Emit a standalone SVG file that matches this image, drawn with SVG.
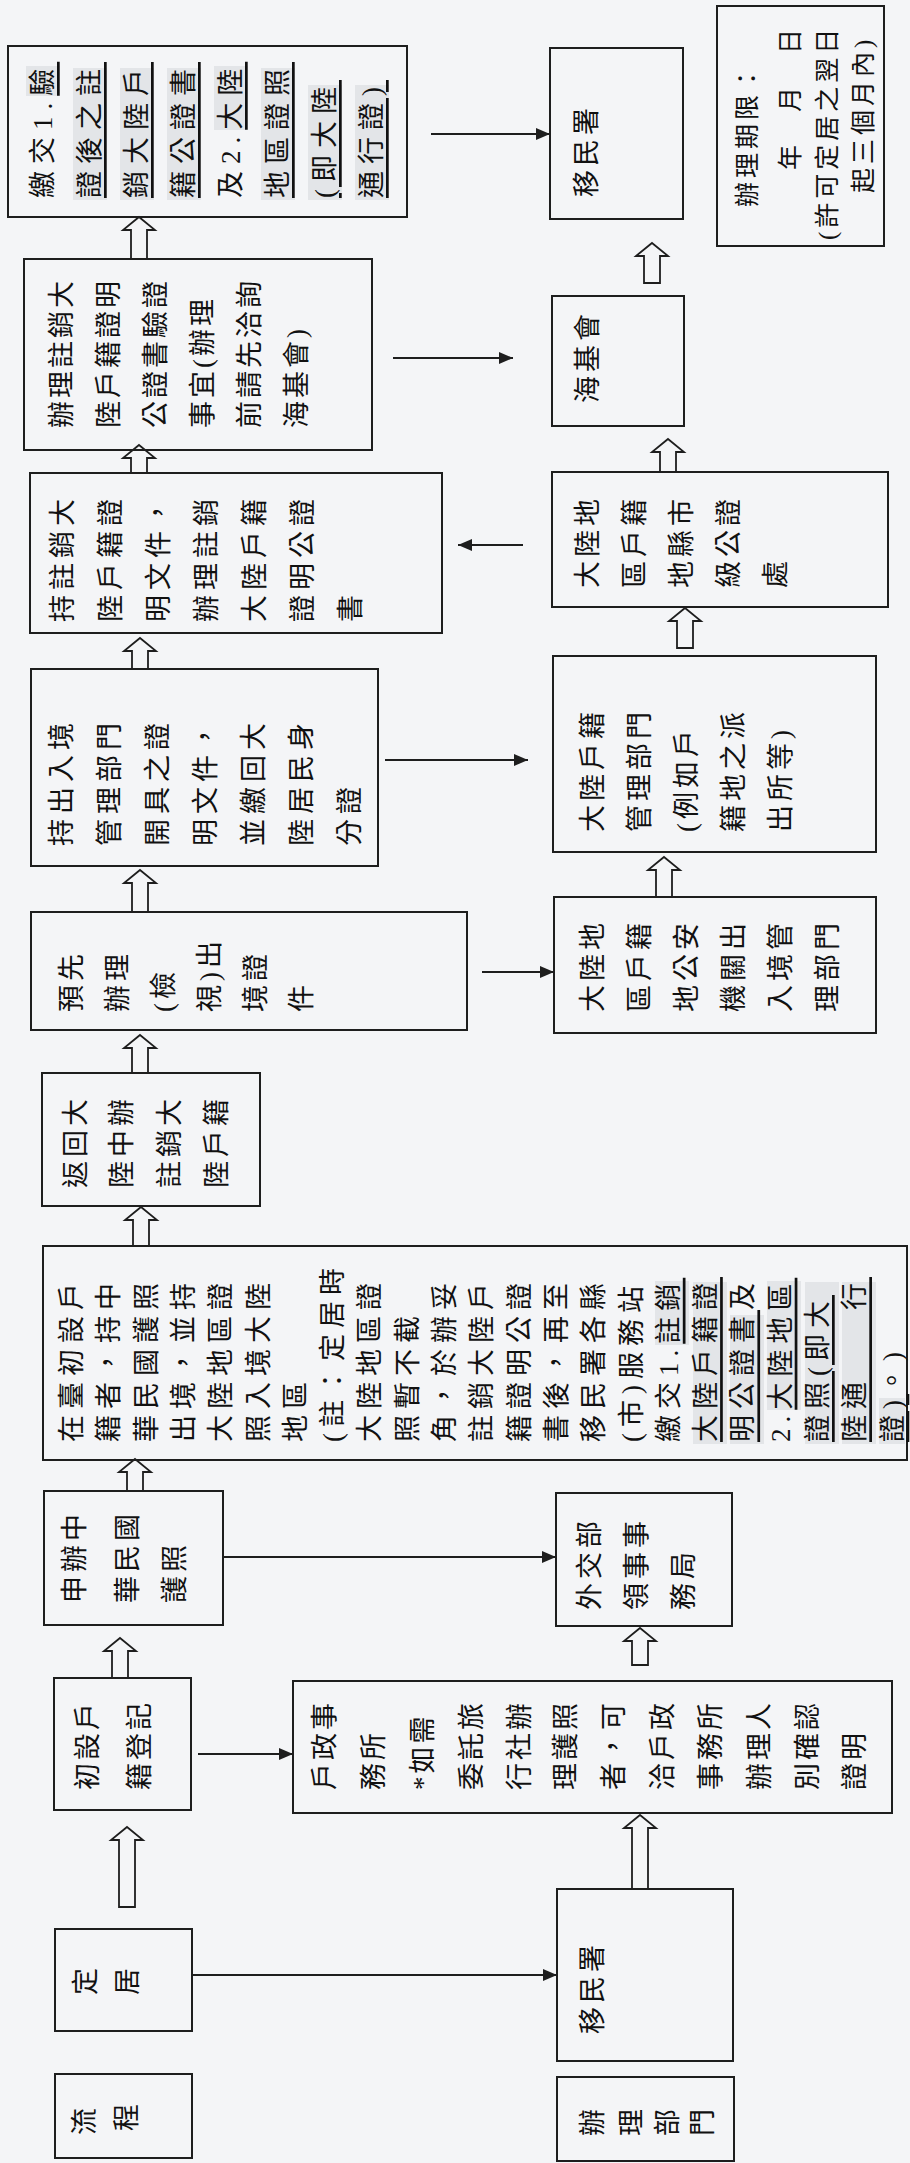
<svg xmlns="http://www.w3.org/2000/svg" width="910" height="2163" viewBox="0 0 910 2163">
<defs>
<style>
.bg{fill:#f4f5f7}
.bx{fill:none;stroke:#1e1e1e;stroke-width:2}
.t{font-family:"Liberation Serif","Noto Sans CJK TC",serif;font-size:27px;fill:#111;dominant-baseline:central}
.sm{font-size:25px}
.s4{letter-spacing:3px}.s5{letter-spacing:4px}.s6{letter-spacing:5px}.s7{letter-spacing:6px}.s8{letter-spacing:7px}
.u{text-decoration:underline}
.hl{fill:#e3e5e8}
.ha{fill:#f4f5f7;stroke:#1e1e1e;stroke-width:1.8}
.ln{stroke:#1e1e1e;stroke-width:2;fill:none}
</style>
<marker id="ah" markerUnits="userSpaceOnUse" markerWidth="14" markerHeight="12" refX="14" refY="6" orient="auto">
<path d="M0,0 L14,6 L0,12 z" fill="#1e1e1e"/>
</marker>
</defs>
<rect class="bg" x="0" y="0" width="910" height="2163"/>

<g id="connectors">
<line class="ln" x1="192" y1="1975" x2="557" y2="1975" marker-end="url(#ah)"/>
<line class="ln" x1="198" y1="1754" x2="293" y2="1754" marker-end="url(#ah)"/>
<line class="ln" x1="223" y1="1557" x2="556" y2="1557" marker-end="url(#ah)"/>
<line class="ln" x1="482" y1="972" x2="554" y2="972" marker-end="url(#ah)"/>
<line class="ln" x1="385" y1="760" x2="528" y2="760" marker-end="url(#ah)"/>
<line class="ln" x1="523" y1="545" x2="458" y2="545" marker-end="url(#ah)"/>
<line class="ln" x1="393" y1="358" x2="513" y2="358" marker-end="url(#ah)"/>
<line class="ln" x1="431" y1="134" x2="550" y2="134" marker-end="url(#ah)"/>
<polygon class="ha" points="127,1827 143,1840 135,1840 135,1907 119,1907 119,1840 111,1840"/>
<polygon class="ha" points="120,1638 136,1651 128,1651 128,1678 112,1678 112,1651 104,1651"/>
<polygon class="ha" points="135,1459 151,1472 143,1472 143,1491 127,1491 127,1472 119,1472"/>
<polygon class="ha" points="141,1207 157,1220 149,1220 149,1246 133,1246 133,1220 125,1220"/>
<polygon class="ha" points="140,1035 156,1048 148,1048 148,1073 132,1073 132,1048 124,1048"/>
<polygon class="ha" points="140,870 156,883 148,883 148,912 132,912 132,883 124,883"/>
<polygon class="ha" points="140,638 156,651 148,651 148,669 132,669 132,651 124,651"/>
<polygon class="ha" points="139,445 155,458 147,458 147,473 131,473 131,458 123,458"/>
<polygon class="ha" points="139,217 155,230 147,230 147,259 131,259 131,230 123,230"/>
<polygon class="ha" points="640,1815 656,1828 648,1828 648,1889 632,1889 632,1828 624,1828"/>
<polygon class="ha" points="640,1628 656,1641 648,1641 648,1665 632,1665 632,1641 624,1641"/>
<polygon class="ha" points="664,857 680,870 672,870 672,897 656,897 656,870 648,870"/>
<polygon class="ha" points="685,608 701,621 693,621 693,648 677,648 677,621 669,621"/>
<polygon class="ha" points="668,439 684,452 676,452 676,472 660,472 660,452 652,452"/>
<polygon class="ha" points="652,243 668,256 660,256 660,283 644,283 644,256 636,256"/>
</g>

<g id="n-liucheng">
<rect class="bx" x="55" y="2074" width="137" height="84"/>
<text class="t" x="85" y="2135" transform="rotate(-90 85 2135)">流</text>
<text class="t" x="127" y="2131" transform="rotate(-90 127 2131)">程</text>
</g>

<g id="n-dingju">
<rect class="bx" x="55" y="1929" width="137" height="102"/>
<text class="t" x="86" y="1995" transform="rotate(-90 86 1995)">定</text>
<text class="t" x="128" y="1995" transform="rotate(-90 128 1995)">居</text>
</g>

<g id="n-chushe">
<rect class="bx" x="54" y="1678" width="137" height="132"/>
<text class="t s4" x="88" y="1790" transform="rotate(-90 88 1790)">初設戶</text>
<text class="t s4" x="140" y="1790" transform="rotate(-90 140 1790)">籍登記</text>
</g>

<g id="n-shenban">
<rect class="bx" x="44" y="1491" width="179" height="134"/>
<text class="t s5" x="75" y="1603" transform="rotate(-90 75 1603)">申辦中</text>
<text class="t s5" x="128" y="1603" transform="rotate(-90 128 1603)">華民國</text>
<text class="t s5" x="175" y="1603" transform="rotate(-90 175 1603)">護照</text>
</g>

<g id="n-zaitai">
<rect class="bx" x="43" y="1246" width="864" height="214"/>
<rect class="hl" x="655" y="1281" width="34" height="64"/>
<rect class="hl" x="693" y="1282" width="34" height="162"/>
<rect class="hl" x="730" y="1315" width="34" height="129"/>
<rect class="hl" x="767" y="1281" width="34" height="129"/>
<rect class="hl" x="805" y="1282" width="34" height="162"/>
<rect class="hl" x="842" y="1282" width="34" height="162"/>
<rect class="hl" x="879" y="1398" width="26" height="46"/>
<text class="t s7" x="72" y="1442" transform="rotate(-90 72 1442)">在臺初設戶</text>
<text class="t s7" x="109.3" y="1442" transform="rotate(-90 109.3 1442)">籍者，持中</text>
<text class="t s7" x="146.6" y="1442" transform="rotate(-90 146.6 1442)">華民國護照</text>
<text class="t s7" x="183.9" y="1442" transform="rotate(-90 183.9 1442)">出境，並持</text>
<text class="t s7" x="221.2" y="1442" transform="rotate(-90 221.2 1442)">大陸地區證</text>
<text class="t s7" x="258.5" y="1442" transform="rotate(-90 258.5 1442)">照入境大陸</text>
<text class="t s7" x="295.8" y="1442" transform="rotate(-90 295.8 1442)">地區</text>
<text class="t s7" x="333.1" y="1442" transform="rotate(-90 333.1 1442)">(註：定居時</text>
<text class="t s7" x="370.4" y="1442" transform="rotate(-90 370.4 1442)">大陸地區證</text>
<text class="t s7" x="407.7" y="1442" transform="rotate(-90 407.7 1442)">照暫不截</text>
<text class="t s7" x="445" y="1442" transform="rotate(-90 445 1442)">角，於辦妥</text>
<text class="t s7" x="482.3" y="1442" transform="rotate(-90 482.3 1442)">註銷大陸戶</text>
<text class="t s7" x="519.6" y="1442" transform="rotate(-90 519.6 1442)">籍證明公證</text>
<text class="t s7" x="556.9" y="1442" transform="rotate(-90 556.9 1442)">書後，再至</text>
<text class="t s7" x="594.2" y="1442" transform="rotate(-90 594.2 1442)">移民署各縣</text>
<text class="t s7" x="631.5" y="1442" transform="rotate(-90 631.5 1442)">(市)服務站</text>
<text class="t s7" x="668.8" y="1442" transform="rotate(-90 668.8 1442)">繳交1.<tspan class="u">註銷</tspan></text>
<text class="t s7" x="706.1" y="1442" transform="rotate(-90 706.1 1442)"><tspan class="u">大陸戶籍證</tspan></text>
<text class="t s7" x="743.4" y="1442" transform="rotate(-90 743.4 1442)"><tspan class="u">明公證書</tspan>及</text>
<text class="t s7" x="780.7" y="1442" transform="rotate(-90 780.7 1442)">2.<tspan class="u">大陸地區</tspan></text>
<text class="t s7" x="818" y="1442" transform="rotate(-90 818 1442)"><tspan class="u">證照(即大</tspan></text>
<text class="t s7" x="855.3" y="1442" transform="rotate(-90 855.3 1442)"><tspan class="u">陸通　　行</tspan></text>
<text class="t s7" x="892.6" y="1442" transform="rotate(-90 892.6 1442)"><tspan class="u">證)</tspan>。)</text>
</g>

<g id="n-fanhui">
<rect class="bx" x="42" y="1073" width="218" height="133"/>
<text class="t s5" x="76" y="1188" transform="rotate(-90 76 1188)">返回大</text>
<text class="t s5" x="122" y="1188" transform="rotate(-90 122 1188)">陸中辦</text>
<text class="t s5" x="170" y="1188" transform="rotate(-90 170 1188)">註銷大</text>
<text class="t s5" x="217" y="1188" transform="rotate(-90 217 1188)">陸戶籍</text>
</g>

<g id="n-yuxian">
<rect class="bx" x="31" y="912" width="436" height="118"/>
<text class="t s5" x="72" y="1012" transform="rotate(-90 72 1012)">預先</text>
<text class="t s5" x="118" y="1012" transform="rotate(-90 118 1012)">辦理</text>
<text class="t s5" x="164" y="1012" transform="rotate(-90 164 1012)">(檢</text>
<text class="t s5" x="210" y="1012" transform="rotate(-90 210 1012)">視)出</text>
<text class="t s5" x="256" y="1012" transform="rotate(-90 256 1012)">境證</text>
<text class="t s5" x="302" y="1012" transform="rotate(-90 302 1012)">件</text>
</g>

<g id="n-chuchu">
<rect class="bx" x="31" y="669" width="347" height="197"/>
<text class="t s6" x="62" y="846" transform="rotate(-90 62 846)">持出入境</text>
<text class="t s6" x="110" y="846" transform="rotate(-90 110 846)">管理部門</text>
<text class="t s6" x="158" y="846" transform="rotate(-90 158 846)">開具之證</text>
<text class="t s6" x="206" y="846" transform="rotate(-90 206 846)">明文件，</text>
<text class="t s6" x="254" y="846" transform="rotate(-90 254 846)">並繳回大</text>
<text class="t s6" x="302" y="846" transform="rotate(-90 302 846)">陸居民身</text>
<text class="t s6" x="350" y="846" transform="rotate(-90 350 846)">分證</text>
</g>

<g id="n-chizhuxiao">
<rect class="bx" x="30" y="473" width="412" height="160"/>
<text class="t s6" x="63" y="622" transform="rotate(-90 63 622)">持註銷大</text>
<text class="t s6" x="111" y="622" transform="rotate(-90 111 622)">陸戶籍證</text>
<text class="t s6" x="159" y="622" transform="rotate(-90 159 622)">明文件，</text>
<text class="t s6" x="207" y="622" transform="rotate(-90 207 622)">辦理註銷</text>
<text class="t s6" x="255" y="622" transform="rotate(-90 255 622)">大陸戶籍</text>
<text class="t s6" x="303" y="622" transform="rotate(-90 303 622)">證明公證</text>
<text class="t s6" x="351" y="622" transform="rotate(-90 351 622)">書</text>
</g>

<g id="n-banli">
<rect class="bx" x="24" y="259" width="348" height="191"/>
<text class="t s4" x="62" y="428" transform="rotate(-90 62 428)">辦理註銷大</text>
<text class="t s4" x="109" y="428" transform="rotate(-90 109 428)">陸戶籍證明</text>
<text class="t s4" x="156" y="428" transform="rotate(-90 156 428)">公證書驗證</text>
<text class="t s4" x="203" y="428" transform="rotate(-90 203 428)">事宜(辦理</text>
<text class="t s4" x="250" y="428" transform="rotate(-90 250 428)">前請先洽詢</text>
<text class="t s4" x="297" y="428" transform="rotate(-90 297 428)">海基會)</text>
</g>

<g id="n-jiaojiao">
<rect class="bx" x="8" y="46" width="399" height="171"/>
<rect class="hl" x="26" y="66" width="34" height="30"/>
<rect class="hl" x="73" y="68" width="34" height="132"/>
<rect class="hl" x="120" y="68" width="34" height="132"/>
<rect class="hl" x="167" y="68" width="34" height="132"/>
<rect class="hl" x="214" y="66" width="34" height="64"/>
<rect class="hl" x="261" y="68" width="34" height="132"/>
<rect class="hl" x="308" y="85" width="34" height="115"/>
<rect class="hl" x="355" y="85" width="34" height="115"/>
<text class="t s8" x="43" y="198" transform="rotate(-90 43 198)">繳交1.<tspan class="u">驗</tspan></text>
<text class="t s8" x="90" y="198" transform="rotate(-90 90 198)"><tspan class="u">證後之註</tspan></text>
<text class="t s8" x="137" y="198" transform="rotate(-90 137 198)"><tspan class="u">銷大陸戶</tspan></text>
<text class="t s8" x="184" y="198" transform="rotate(-90 184 198)"><tspan class="u">籍公證書</tspan></text>
<text class="t s8" x="231" y="198" transform="rotate(-90 231 198)">及2.<tspan class="u">大陸</tspan></text>
<text class="t s8" x="278" y="198" transform="rotate(-90 278 198)"><tspan class="u">地區證照</tspan></text>
<text class="t s8" x="325" y="198" transform="rotate(-90 325 198)"><tspan class="u">(即大陸</tspan></text>
<text class="t s8" x="372" y="198" transform="rotate(-90 372 198)"><tspan class="u">通行證)</tspan></text>
</g>

<g id="n-bumen">
<rect class="bx" x="557" y="2077" width="177" height="84"/>
<text class="t" x="593" y="2136" transform="rotate(-90 593 2136)">辦</text>
<text class="t" x="632" y="2136" transform="rotate(-90 632 2136)">理</text>
<text class="t" x="668" y="2136" transform="rotate(-90 668 2136)">部</text>
<text class="t" x="703" y="2136" transform="rotate(-90 703 2136)">門</text>
</g>

<g id="n-yiminshu-1">
<rect class="bx" x="557" y="1889" width="176" height="172"/>
<text class="t s5" x="593" y="2034" transform="rotate(-90 593 2034)">移民署</text>
</g>

<g id="n-huzheng">
<rect class="bx" x="293" y="1681" width="599" height="132"/>
<text class="t s4" x="325" y="1790" transform="rotate(-90 325 1790)">戶政事</text>
<text class="t s4" x="374" y="1790" transform="rotate(-90 374 1790)">務所</text>
<text class="t s4" x="423" y="1790" transform="rotate(-90 423 1790)">*如需</text>
<text class="t s4" x="472" y="1790" transform="rotate(-90 472 1790)">委託旅</text>
<text class="t s4" x="520" y="1790" transform="rotate(-90 520 1790)">行社辦</text>
<text class="t s4" x="566" y="1790" transform="rotate(-90 566 1790)">理護照</text>
<text class="t s4" x="614" y="1790" transform="rotate(-90 614 1790)">者，可</text>
<text class="t s4" x="663" y="1790" transform="rotate(-90 663 1790)">洽戶政</text>
<text class="t s4" x="711" y="1790" transform="rotate(-90 711 1790)">事務所</text>
<text class="t s4" x="760" y="1790" transform="rotate(-90 760 1790)">辦理人</text>
<text class="t s4" x="808" y="1790" transform="rotate(-90 808 1790)">別確認</text>
<text class="t s4" x="855" y="1790" transform="rotate(-90 855 1790)">證明</text>
</g>

<g id="n-waijiao">
<rect class="bx" x="556" y="1493" width="176" height="133"/>
<text class="t s5" x="590" y="1610" transform="rotate(-90 590 1610)">外交部</text>
<text class="t s5" x="637" y="1610" transform="rotate(-90 637 1610)">領事事</text>
<text class="t s5" x="684" y="1610" transform="rotate(-90 684 1610)">務局</text>
</g>

<g id="n-gongan">
<rect class="bx" x="554" y="897" width="322" height="136"/>
<text class="t s5" x="593" y="1012" transform="rotate(-90 593 1012)">大陸地</text>
<text class="t s5" x="640" y="1012" transform="rotate(-90 640 1012)">區戶籍</text>
<text class="t s5" x="687" y="1012" transform="rotate(-90 687 1012)">地公安</text>
<text class="t s5" x="734" y="1012" transform="rotate(-90 734 1012)">機關出</text>
<text class="t s5" x="781" y="1012" transform="rotate(-90 781 1012)">入境管</text>
<text class="t s5" x="828" y="1012" transform="rotate(-90 828 1012)">理部門</text>
</g>

<g id="n-huji">
<rect class="bx" x="553" y="656" width="323" height="196"/>
<text class="t s5" x="593" y="832" transform="rotate(-90 593 832)">大陸戶籍</text>
<text class="t s5" x="640" y="832" transform="rotate(-90 640 832)">管理部門</text>
<text class="t s5" x="687" y="832" transform="rotate(-90 687 832)">(例如戶</text>
<text class="t s5" x="734" y="832" transform="rotate(-90 734 832)">籍地之派</text>
<text class="t s5" x="781" y="832" transform="rotate(-90 781 832)">出所等)</text>
</g>

<g id="n-gongzheng">
<rect class="bx" x="552" y="472" width="336" height="135"/>
<text class="t s5" x="588" y="588" transform="rotate(-90 588 588)">大陸地</text>
<text class="t s5" x="635" y="588" transform="rotate(-90 635 588)">區戶籍</text>
<text class="t s5" x="682" y="588" transform="rotate(-90 682 588)">地縣市</text>
<text class="t s5" x="729" y="588" transform="rotate(-90 729 588)">級公證</text>
<text class="t s5" x="776" y="588" transform="rotate(-90 776 588)">處</text>
</g>

<g id="n-haijihui">
<rect class="bx" x="552" y="296" width="132" height="130"/>
<text class="t s5" x="588" y="403" transform="rotate(-90 588 403)">海基會</text>
</g>

<g id="n-yiminshu-2">
<rect class="bx" x="550" y="48" width="133" height="171"/>
<text class="t s5" x="587" y="197" transform="rotate(-90 587 197)">移民署</text>
</g>

<g id="n-qixian">
<rect class="bx" x="717" y="6" width="167" height="240"/>
<text class="t sm s5" x="747" y="207" transform="rotate(-90 747 207)">辦理期限：</text>
<text class="t sm s5" x="790" y="170" transform="rotate(-90 790 170)">年　月　日</text>
<text class="t sm s5" x="827" y="240" transform="rotate(-90 827 240)">(許可定居之翌日</text>
<text class="t sm s5" x="863" y="193" transform="rotate(-90 863 193)">起三個月內)</text>
</g>
</svg>
